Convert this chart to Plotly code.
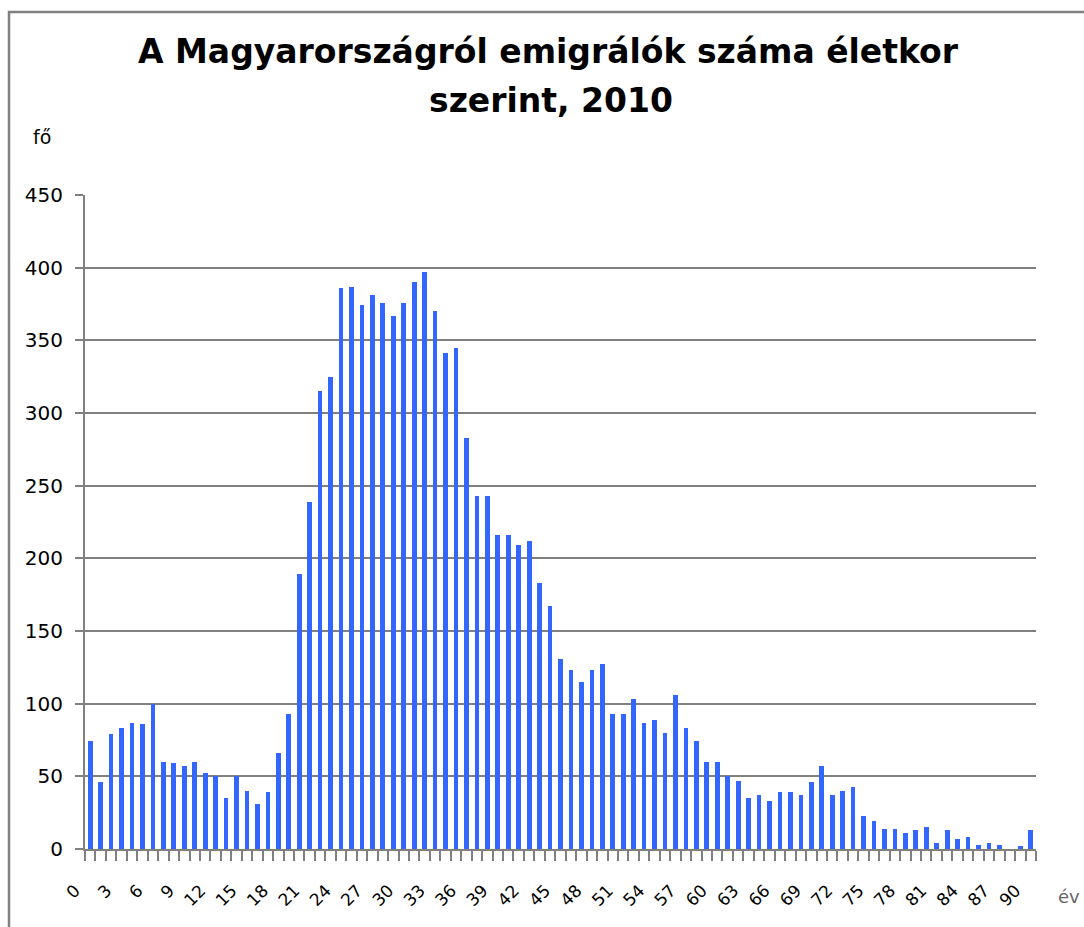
import plotly.graph_objects as go

# ---- data ----
ages = list(range(0, 91))
counts = [74, 46, 79, 83, 87, 86, 100, 60, 59, 57,
          60, 52, 50, 35, 50, 40, 31, 39, 66, 93,
          189, 239, 315, 325, 386, 387, 374, 381, 376, 367,
          376, 390, 397, 370, 341, 345, 283, 243, 243, 216,
          216, 209, 212, 183, 167, 131, 123, 115, 123, 127,
          93, 93, 103, 87, 89, 80, 106, 83, 74, 60,
          60, 50, 47, 35, 37, 33, 39, 39, 37, 46,
          57, 37, 40, 43, 23, 19, 14, 14, 11, 13,
          15, 4, 13, 7, 8, 3, 4, 3, 0, 2, 13]
tick_values = [0, 3, 6, 9, 12, 15, 18, 21, 24, 27, 30, 33, 36, 39, 42, 45,
               48, 51, 54, 57, 60, 63, 66, 69, 72, 75, 78, 81, 84, 87, 90]
tick_labels = [str(v) for v in tick_values]
y_ticks = [0, 50, 100, 150, 200, 250, 300, 350, 400, 450]

title_line1 = "A Magyarországról emigrálók száma életkor"
title_line2 = "szerint, 2010"

# ---- layout geometry (pixels) ----
W, H = 1084, 927
L, R, T, B = 85, 1036, 195, 849
PW, PH = R - L, B - T


def px(x):
    return (x - L) / PW


def py(y):
    return (B - y) / PH


FONT = "DejaVu Sans, Verdana, sans-serif"
GRAY = "#808080"

fig = go.Figure()
fig.add_trace(go.Bar(
    x=ages, y=counts, width=0.45,
    marker=dict(color="#3366FF", line=dict(width=0)),
    showlegend=False,
))

boundaries = [a - 0.5 for a in ages] + [ages[-1] + 0.5]

fig.update_layout(
    width=W, height=H,
    margin=dict(l=L, r=W - R, t=T, b=H - B, pad=0),
    paper_bgcolor="white", plot_bgcolor="white",
    bargap=0,
    xaxis=dict(
        range=[-0.5, 90.5], tickmode="array",
        tickvals=tick_values, ticktext=tick_labels,
        tickangle=-45, ticks="", showgrid=False, zeroline=False,
        showline=True, linecolor=GRAY, linewidth=2, automargin=False,
        tickfont=dict(family=FONT, size=17, color="black"),
        ticklabelstandoff=23, ticklabelshift=-15,
        minor=dict(tickmode="array", tickvals=boundaries, ticks="outside",
                   ticklen=10, tickcolor=GRAY, tickwidth=2, showgrid=False),
    ),
    yaxis=dict(
        range=[0, 450], tickmode="array", tickvals=y_ticks,
        ticks="outside", ticklen=8, tickcolor=GRAY, tickwidth=2,
        showgrid=True, gridcolor=GRAY, gridwidth=1.5, automargin=False,
        zeroline=False, showline=True, linecolor=GRAY, linewidth=2,
        tickfont=dict(family=FONT, size=20, color="black"),
        ticklabelstandoff=8,
    ),
    font=dict(family=FONT, color="black"),
)

annotations = [
    dict(text="<b>" + title_line1 + "</b>", x=px(548), y=py(52),
         font=dict(size=33, family=FONT, color="black")),
    dict(text="<b>" + title_line2 + "</b>", x=px(551), y=py(101),
         font=dict(size=33, family=FONT, color="black")),
    dict(text="fő", x=px(42), y=py(137), font=dict(size=19, family=FONT, color="black")),
    dict(text="év", x=px(1069), y=py(896), font=dict(size=18, family=FONT, color="#666666")),
]
for a in annotations:
    a.update(xref="paper", yref="paper", xanchor="center", yanchor="middle", showarrow=False)
fig.update_layout(annotations=annotations)

# outer chart frame (left and top edges visible)
fig.add_shape(type="rect", xref="paper", yref="paper",
              x0=px(9), x1=px(1200), y0=py(1000), y1=py(12),
              line=dict(color=GRAY, width=2.5), fillcolor="rgba(0,0,0,0)", layer="below")

fig.write_html(
    "out.html",
    config={"displayModeBar": False},
    post_script="document.body.style.margin='0';document.body.style.overflow='hidden';",
)
